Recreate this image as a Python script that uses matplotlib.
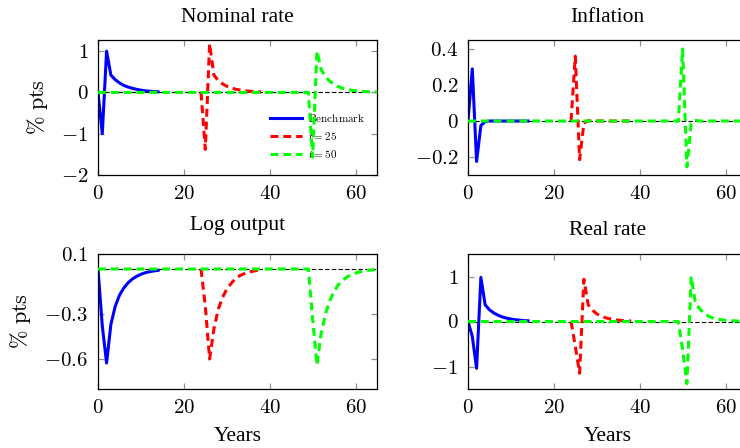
import matplotlib
matplotlib.use("Agg")
import matplotlib.pyplot as plt
from matplotlib.ticker import FuncFormatter

plt.rcParams["font.family"] = "Liberation Serif"
plt.rcParams["mathtext.fontset"] = "cm"

# years for each series
years_bench = list(range(0, 15))
years_t25 = list(range(24, 39))
years_t50 = [0] + list(range(49, 66))

# Nominal rate
nom_bench = [0, -1.0, 1.0, 0.42, 0.31, 0.23, 0.17, 0.13, 0.1, 0.075, 0.055, 0.04, 0.03, 0.02, 0.015]
nom_t25 = [0, -1.38, 1.18, 0.42, 0.29, 0.21, 0.15, 0.11, 0.08, 0.06, 0.045, 0.033, 0.024, 0.017, 0.012]
nom_t50 = [0, 0, -1.57, 1.0, 0.55, 0.38, 0.27, 0.2, 0.14, 0.1, 0.075, 0.055, 0.04, 0.03, 0.022, 0.016, 0.012, 0.008]

# Inflation
inf_bench = [0, 0.29, -0.225, -0.025, -0.004, 0, 0, 0, 0, 0, 0, 0, 0, 0, 0]
inf_t25 = [0, 0.36, -0.215, -0.012, 0.002, 0, 0, 0, 0, 0, 0, 0, 0, 0, 0]
inf_t50 = [0, 0, 0.40, -0.255, -0.013, 0.003, 0, 0, 0, 0, 0, 0, 0, 0, 0, 0, 0, 0]

# Log output
out_bench = [0, -0.38, -0.627, -0.37, -0.25, -0.175, -0.127, -0.092, -0.067, -0.049, -0.035, -0.025, -0.018, -0.013, -0.009]
out_t25 = [0, -0.25, -0.6, -0.4, -0.27, -0.19, -0.135, -0.097, -0.065, -0.045, -0.032, -0.022, -0.015, -0.01, -0.007]
out_t50 = [0, 0, -0.33, -0.64, -0.43, -0.3, -0.21, -0.15, -0.105, -0.075, -0.053, -0.038, -0.027, -0.019, -0.013, -0.009, -0.006, -0.004]

# Real rate
real_bench = [0, -0.33, -1.04, 0.98, 0.37, 0.26, 0.19, 0.14, 0.1, 0.075, 0.055, 0.04, 0.03, 0.02, 0.015]
real_t25 = [0, -0.55, -1.15, 0.94, 0.37, 0.25, 0.17, 0.12, 0.085, 0.06, 0.043, 0.03, 0.021, 0.015, 0.01]
real_t50 = [0, 0, -0.63, -1.38, 1.0, 0.4, 0.28, 0.18, 0.12, 0.08, 0.055, 0.04, 0.028, 0.02, 0.014, 0.01, 0.007, 0.005]

x_ticks = [0, 20, 40, 60]

fig = plt.figure(figsize=(7.4, 4.48), dpi=100)

W, H = 740.0, 448.0


def make_axes(left, top, right, bottom):
    # pixel box -> figure fraction
    return fig.add_axes([left / W, 1 - bottom / H, (right - left) / W, (bottom - top) / H])


def draw_panel(ax, bench, t25, t50, title, ylim, yticks, title_pad=13):
    ax.axhline(0, color="black", lw=0.8, dashes=(4, 2), zorder=1)
    ax.plot(years_bench, bench, color="#0000ff", lw=2.2, label=r"$\mathrm{Benchmark}$", zorder=2)
    ax.plot(years_t25, t25, color="#ff0000", lw=2.2, dashes=(2.6, 1.6), label=r"$t = 25$", zorder=3)
    ax.plot(years_t50, t50, color="#00ff00", lw=2.2, dashes=(2.6, 1.6), label=r"$t = 50$", zorder=4)

    ax.set_xlim(0, 65)
    ax.set_ylim(*ylim)
    ax.set_xticks(x_ticks)
    ax.set_yticks(yticks)
    fmt = FuncFormatter(lambda v, p: f"${v:g}$")
    ax.xaxis.set_major_formatter(fmt)
    ax.yaxis.set_major_formatter(fmt)
    ax.tick_params(direction="in", length=4.5, width=0.9, color="#909090",
                   top=True, right=True, labelsize=15, pad=7)
    for s in ax.spines.values():
        s.set_linewidth(0.9)
    ax.set_title(title, fontsize=15.5, pad=title_pad)


ax1 = make_axes(98, 40, 377, 175)
ax2 = make_axes(468, 40, 747, 175)
ax3 = make_axes(98, 254, 377, 389)
ax4 = make_axes(468, 254, 747, 389)

draw_panel(ax1, nom_bench, nom_t25, nom_t50, "Nominal rate", (-2, 1.27), [-2, -1, 0, 1])
draw_panel(ax2, inf_bench, inf_t25, inf_t50, "Inflation", (-0.3, 0.45), [-0.2, 0, 0.2, 0.4])
draw_panel(ax3, out_bench, out_t25, out_t50, "Log output", (-0.8, 0.1), [-0.6, -0.3, 0.1], title_pad=17)
draw_panel(ax4, real_bench, real_t25, real_t50, "Real rate", (-1.5, 1.5), [-1, 0, 1], title_pad=13.5)

ax1.set_ylabel(r"$\%\ \mathrm{pts}$", fontsize=16, labelpad=8)
ax3.set_ylabel(r"$\%\ \mathrm{pts}$", fontsize=16, labelpad=8)
ax3.set_xlabel("Years", fontsize=15.5, labelpad=7)
ax4.set_xlabel("Years", fontsize=15.5, labelpad=7)

leg = ax1.legend(loc="upper left", bbox_to_anchor=(0.615, 0.47), frameon=False,
                 fontsize=8, handlelength=2.9, handletextpad=0.55,
                 labelspacing=0.55, borderpad=0, borderaxespad=0)
leg.set_zorder(1)

fig.savefig("out.png", dpi=100)
